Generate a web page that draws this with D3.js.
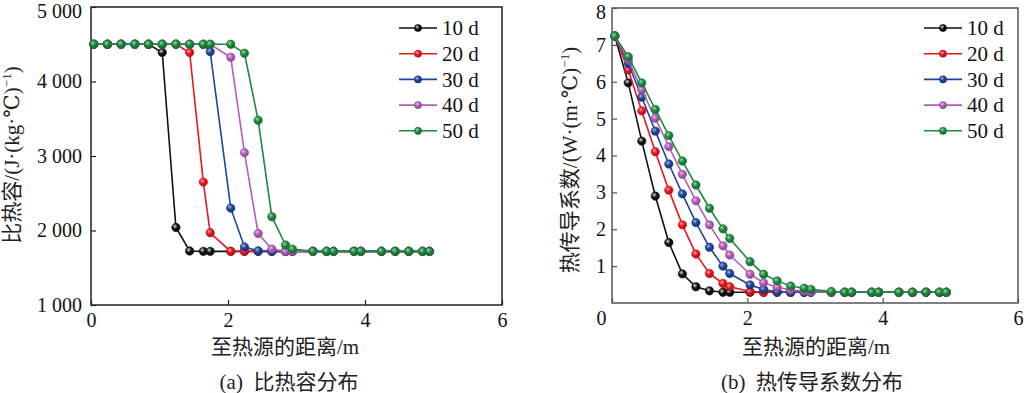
<!DOCTYPE html>
<html>
<head>
<meta charset="utf-8">
<script src="https://cdn.jsdelivr.net/npm/d3@7"></script>
<style>
  html, body { margin: 0; padding: 0; background: #fff; }
  svg { display: block; }
  text { font-family: "Liberation Serif", "Times New Roman", Tinos, "DejaVu Serif", "Noto Sans CJK SC", serif; }
</style>
</head>
<body>
<script>
// ---------------- data ----------------
const xGrid = [0.04, 0.24, 0.44, 0.64, 0.84, 1.04, 1.24, 1.44, 1.64, 1.74, 2.04, 2.24, 2.44,
               2.64, 2.84, 2.94, 3.24, 3.44, 3.54, 3.84, 3.94, 4.24, 4.44, 4.64, 4.84, 4.94];
const seriesNames = ["10 d", "20 d", "30 d", "40 d", "50 d"];

// (a) specific heat capacity, J/(kg·℃)
const cap10 = [4500, 4500, 4500, 4500, 4500, 4390, 2040, 1725, 1720, 1720, 1720, 1720, 1720,
               1720, 1720, 1720, 1720, 1720, 1720, 1720, 1720, 1720, 1720, 1720, 1720, 1720];
const cap20 = [4500, 4500, 4500, 4500, 4500, 4500, 4500, 4390, 2650, 1970, 1720, 1720, 1720,
               1720, 1720, 1720, 1720, 1720, 1720, 1720, 1720, 1720, 1720, 1720, 1720, 1720];
const cap30 = [4500, 4500, 4500, 4500, 4500, 4500, 4500, 4500, 4500, 4400, 2300, 1780, 1725,
               1720, 1720, 1720, 1720, 1720, 1720, 1720, 1720, 1720, 1720, 1720, 1720, 1720];
const cap40 = [4500, 4500, 4500, 4500, 4500, 4500, 4500, 4500, 4500, 4500, 4325, 3045, 1960,
               1750, 1720, 1720, 1720, 1720, 1720, 1720, 1720, 1720, 1720, 1720, 1720, 1720];
const cap50 = [4500, 4500, 4500, 4500, 4500, 4500, 4500, 4500, 4500, 4500, 4500, 4380, 3480,
               2185, 1805, 1750, 1720, 1720, 1720, 1720, 1720, 1720, 1720, 1720, 1720, 1720];

// (b) thermal conductivity, W/(m·℃)
const cond10 = [7.24, 5.97, 4.39, 2.90, 1.64, 0.79, 0.44, 0.33, 0.29, 0.29, 0.29, 0.29, 0.29,
                0.29, 0.29, 0.29, 0.29, 0.29, 0.29, 0.29, 0.29, 0.29, 0.29, 0.29, 0.29, 0.29];
const cond20 = [7.24, 6.32, 5.21, 4.10, 3.06, 2.12, 1.33, 0.80, 0.53, 0.44, 0.31, 0.29, 0.29,
                0.29, 0.29, 0.29, 0.29, 0.29, 0.29, 0.29, 0.29, 0.29, 0.29, 0.29, 0.29, 0.29];
const cond30 = [7.24, 6.50, 5.58, 4.66, 3.77, 2.96, 2.18, 1.51, 1.00, 0.80, 0.49, 0.37, 0.30,
                0.29, 0.29, 0.29, 0.29, 0.29, 0.29, 0.29, 0.29, 0.29, 0.29, 0.29, 0.29, 0.29];
const cond40 = [7.24, 6.59, 5.78, 5.01, 4.24, 3.49, 2.77, 2.12, 1.55, 1.30, 0.78, 0.55, 0.43,
                0.35, 0.32, 0.30, 0.29, 0.29, 0.29, 0.29, 0.29, 0.29, 0.29, 0.29, 0.29, 0.29];
const cond50 = [7.24, 6.68, 5.97, 5.25, 4.54, 3.85, 3.20, 2.57, 2.01, 1.75, 1.12, 0.78, 0.60,
                0.46, 0.40, 0.37, 0.31, 0.29, 0.29, 0.29, 0.29, 0.29, 0.29, 0.29, 0.29, 0.29];

const xTicks = [0, 2, 4, 6];
const capTicks = [1000, 2000, 3000, 4000, 5000];
const capTickLabels = ["1 000", "2 000", "3 000", "4 000", "5 000"];
const condTicks = [1, 2, 3, 4, 5, 6, 7, 8];
const condTickLabels = ["1", "2", "3", "4", "5", "6", "7", "8"];

// ---------------- styles ----------------
const colors = ["#111111", "#e8161e", "#1f459e", "#b45db9", "#1b8b3d"];

const svg = d3.select("body").append("svg")
  .attr("width", 1024).attr("height", 393);

svg.append("rect").attr("width", 1024).attr("height", 393).attr("fill", "#fff");

// sphere-like gradients for markers
const defs = svg.append("defs");
colors.forEach((c, i) => {
  const g = defs.append("radialGradient").attr("id", "grad" + i)
    .attr("cx", "0.38").attr("cy", "0.35").attr("r", "0.7");
  g.append("stop").attr("offset", "0%").attr("stop-color", d3.interpolateRgb(c, "#ffffff")(i === 0 ? 0.85 : 0.6));
  g.append("stop").attr("offset", "45%").attr("stop-color", c);
  g.append("stop").attr("offset", "100%").attr("stop-color", d3.color(c).darker(0.9));
});

function drawPanel(opt) {
  const x = d3.scaleLinear().domain([0, 6]).range([opt.left, opt.right]);
  const y = d3.scaleLinear().domain(opt.yDomain).range([opt.bottom, opt.top]);

  // x axis (inward ticks)
  const xa = svg.append("g").attr("transform", `translate(0,${opt.bottom})`)
    .call(d3.axisBottom(x).tickValues(xTicks).tickSizeInner(-5).tickSizeOuter(0).tickPadding(8)
      .tickFormat(d3.format("d")));
  xa.attr("font-family", null);
  xa.select(".domain").remove();
  xa.selectAll("line").attr("stroke", opt.frame).attr("stroke-width", 1.2);
  xa.selectAll("text").attr("font-size", 20).attr("fill", "#111");
  if (opt.shiftZero) xa.selectAll("text").filter(d => d === 0).attr("dx", opt.shiftZero);

  // y axis (inward ticks)
  const ya = svg.append("g").attr("transform", `translate(${opt.left},0)`)
    .call(d3.axisLeft(y).tickValues(opt.yTicks).tickSizeInner(-5).tickSizeOuter(0).tickPadding(opt.yPad)
      .tickFormat((d, i) => opt.yTickLabels[i]));
  ya.attr("font-family", null);
  ya.select(".domain").remove();
  ya.selectAll("line").attr("stroke", opt.frame).attr("stroke-width", 1.2);
  ya.selectAll("text").attr("font-size", 20).attr("fill", "#111");
  // top label sits slightly lower, as in the reference
  ya.selectAll("text").filter(d => d === opt.yDomain[1]).attr("y", 4);

  // frame
  svg.append("rect")
    .attr("x", opt.left).attr("y", opt.top)
    .attr("width", opt.right - opt.left).attr("height", opt.bottom - opt.top)
    .attr("fill", "none").attr("stroke", opt.frame).attr("stroke-width", 1.5);

  // series
  const line = d3.line().x(d => x(d[0])).y(d => y(d[1]));
  opt.series.forEach((vals, i) => {
    const pts = xGrid.map((xv, k) => [xv, vals[k]]);
    const g = svg.append("g");
    g.append("path").datum(pts).attr("d", line)
      .attr("fill", "none").attr("stroke", colors[i]).attr("stroke-width", 1.6);
    g.selectAll("circle").data(pts).join("circle")
      .attr("cx", d => x(d[0])).attr("cy", d => y(d[1])).attr("r", 4.2)
      .attr("fill", `url(#grad${i})`)
      .attr("stroke", d3.color(colors[i]).darker(0.6)).attr("stroke-width", 0.6);
  });

  // legend
  const lg = svg.append("g");
  seriesNames.forEach((name, i) => {
    const yy = opt.legendY + i * 25.7;
    lg.append("line").attr("x1", opt.legendX).attr("x2", opt.legendX + 38)
      .attr("y1", yy).attr("y2", yy).attr("stroke", colors[i]).attr("stroke-width", 1.6);
    lg.append("circle").attr("cx", opt.legendX + 19).attr("cy", yy).attr("r", 3.6)
      .attr("fill", `url(#grad${i})`).attr("stroke", d3.color(colors[i]).darker(0.6)).attr("stroke-width", 0.6);
    lg.append("text").attr("x", opt.legendX + 43).attr("y", yy).attr("dy", "0.35em")
      .attr("font-size", 21).attr("fill", "#111").text(name);
  });

  // x title
  svg.append("text").attr("x", opt.xTitleX).attr("y", 354)
    .attr("text-anchor", "middle").attr("font-size", 21).attr("fill", "#222")
    .text("至热源的距离/m");

  // caption
  svg.append("text").attr("x", opt.capX).attr("y", 389)
    .attr("text-anchor", "middle").attr("font-size", 21).attr("fill", "#222")
    .text(opt.caption);

  // y title (rotated, with superscript)
  const yt = svg.append("text")
    .attr("transform", `translate(${opt.yTitleX},${opt.yTitleY}) rotate(-90)`)
    .attr("text-anchor", "middle").attr("font-size", 21).attr("fill", "#222");
  yt.append("tspan").text(opt.yTitle[0]);
  yt.append("tspan").attr("font-size", 13).attr("dy", -8).text("−1");
  yt.append("tspan").attr("dy", 8).text(")");
}

drawPanel({
  left: 91, right: 502, top: 7, bottom: 305,
  yDomain: [1000, 5000], yTicks: capTicks, yTickLabels: capTickLabels, yPad: 9,
  frame: "#222",
  series: [cap10, cap20, cap30, cap40, cap50],
  legendX: 399, legendY: 28,
  xTitleX: 285, capX: 289, caption: "(a)\u00A0\u00A0比热容分布",
  yTitle: ["比热容/(J·(kg·℃)"], yTitleX: 19, yTitleY: 155
});

drawPanel({
  left: 612, right: 1018, top: 8, bottom: 303,
  yDomain: [0, 8], yTicks: condTicks, yTickLabels: condTickLabels, yPad: 6,
  frame: "#555",
  series: [cond10, cond20, cond30, cond40, cond50],
  legendX: 924, legendY: 28,
  xTitleX: 816, capX: 812, caption: "(b)\u00A0\u00A0热传导系数分布",
  yTitle: ["热传导系数/(W·(m·℃)"], yTitleX: 577, yTitleY: 160,
  shiftZero: -11
});
</script>
</body>
</html>
